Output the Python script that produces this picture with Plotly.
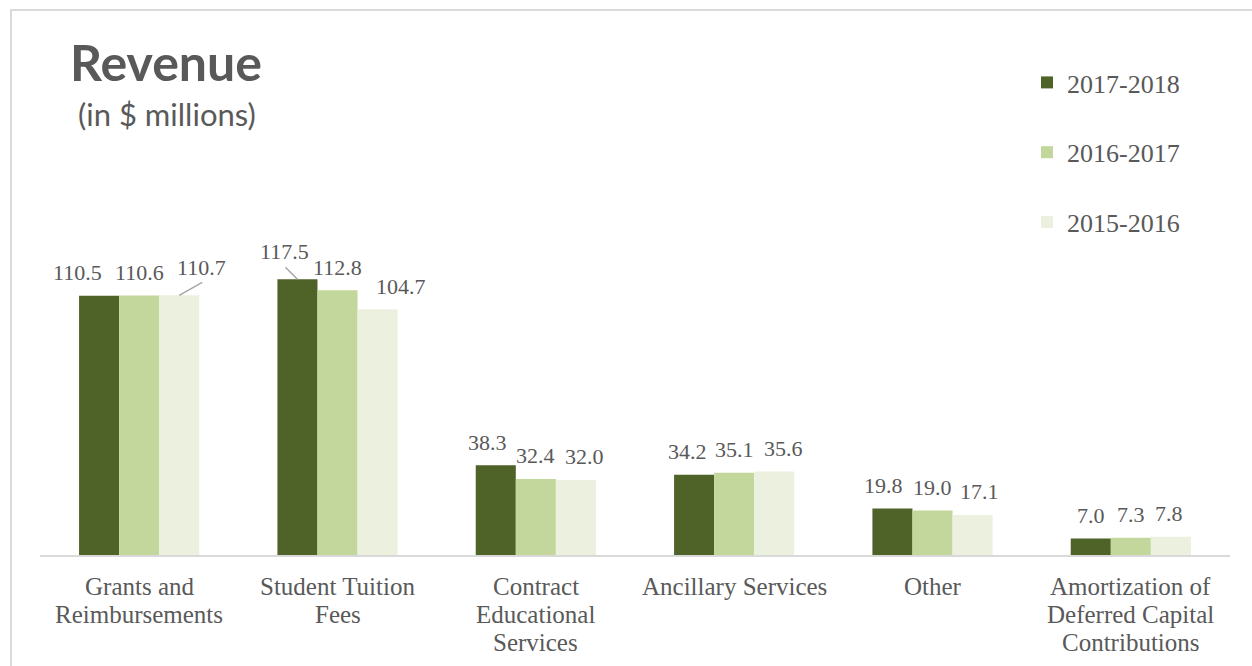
import plotly.graph_objects as go

# Revenue by source, in $ millions
categories = [
    "Grants and<br>Reimbursements",
    "Student Tuition<br>Fees",
    "Contract<br>Educational<br>Services",
    "Ancillary Services",
    "Other",
    "Amortization of<br>Deferred Capital<br>Contributions",
]
years = ["2017-2018", "2016-2017", "2015-2016"]
rev_2017_2018 = [110.5, 117.5, 38.3, 34.2, 19.8, 7.0]
rev_2016_2017 = [110.6, 112.8, 32.4, 35.1, 19.0, 7.3]
rev_2015_2016 = [110.7, 104.7, 32.0, 35.6, 17.1, 7.8]

series = [rev_2017_2018, rev_2016_2017, rev_2015_2016]
colors = ["#4f6228", "#c3d69b", "#ebf1de"]

# Horizontal nudges (px) of the value labels so neighbours do not collide
label_dx = [
    [-22, 0, 22],
    [-13, 0, 23],
    [-8, 0, 9],
    [-7, 0, 9],
    [-9, 0, 7],
    [0, 0, -2],
]
# Labels pulled away from their bar and tied back with a leader line
leader = {(0, 2): (23, 13), (1, 0): (-12, 12)}

W, H = 1252, 666
ML, MR, MT, MB = 40, 22, 250, 111
TEXT = "#595959"
SERIF = "Liberation Serif, Times New Roman, serif"
SANS = "Lato, Calibri, sans-serif"

pw, ph = W - ML - MR, H - MT - MB


def px_x(p):
    return (p - ML) / pw


def px_y(p):
    return (H - MB - p) / ph


x = list(range(len(categories)))
bargap = 0.394
bar_w = (1 - bargap) / len(series)

fig = go.Figure()
for name, vals, col in zip(years, series, colors):
    fig.add_trace(go.Bar(
        x=x, y=vals, name=name, marker=dict(color=col, line=dict(width=0)),
        legendgroup=name, hoverinfo="skip",
    ))

annotations = []
shapes = []
for j, vals in enumerate(series):
    for i, v in enumerate(vals):
        bx = i + (j - 1) * bar_w
        lift = 23
        if (i, j) in leader:
            dx, dy = leader[(i, j)]
            lift = 28
            shapes.append(dict(
                type="line", xref="x", yref="y",
                xsizemode="pixel", ysizemode="pixel",
                xanchor=bx, yanchor=v, x0=0, y0=0, x1=dx, y1=dy,
                line=dict(color="#a6a6a6", width=1.5),
            ))
        annotations.append(dict(
            x=bx, y=v, xref="x", yref="y", text=f"{v:.1f}",
            showarrow=False, xanchor="center", yanchor="middle",
            xshift=label_dx[i][j], yshift=lift,
            font=dict(family=SERIF, size=22, color=TEXT),
        ))

# Category labels under the axis, one line at a time for tight leading
for i, cat in enumerate(categories):
    for k, line in enumerate(cat.split("<br>")):
        annotations.append(dict(
            x=i, y=0, xref="x", yref="y", text=line,
            showarrow=False, xanchor="center", yanchor="middle",
            yshift=-(31 + 28 * k),
            font=dict(family=SERIF, size=25, color=TEXT),
        ))

# Subtitle under the chart title
annotations.append(dict(
    x=px_x(76), y=px_y(114), xref="paper", yref="paper",
    text="(in $ millions)", showarrow=False, xanchor="left", yanchor="middle",
    font=dict(family=SANS, size=31, color=TEXT),
))

# Light frame around the chart
shapes.append(dict(
    type="rect", xref="paper", yref="paper",
    x0=px_x(11), x1=px_x(W + 20), y0=px_y(H + 20), y1=px_y(10),
    line=dict(color="#d9d9d9", width=2), fillcolor="rgba(0,0,0,0)", layer="below",
))

fig.update_layout(
    width=W, height=H,
    margin=dict(l=ML, r=MR, t=MT, b=MB, autoexpand=False),
    paper_bgcolor="white", plot_bgcolor="white",
    barmode="group", bargap=bargap, bargroupgap=0,
    title=dict(
        text="<b>Revenue</b>", xref="container", yref="container",
        x=70 / W, xanchor="left", y=1 - 63 / H, yanchor="middle",
        font=dict(family=SANS, size=50, color=TEXT),
    ),
    xaxis=dict(
        tickmode="array", tickvals=x, showticklabels=False,
        range=[-0.5, len(categories) - 0.5],
        showline=True, linecolor="#d9d9d9", linewidth=2,
        showgrid=False, zeroline=False, ticks="", automargin=False,
    ),
    yaxis=dict(range=[0, 130], visible=False, automargin=False),
    legend=dict(
        x=px_x(1027), y=px_y(59), xanchor="left", yanchor="top",
        xref="paper", yref="paper",
        font=dict(family=SERIF, size=26, color=TEXT),
        tracegroupgap=33, bgcolor="rgba(0,0,0,0)",
    ),
    annotations=annotations,
    shapes=shapes,
    showlegend=True,
)

fig.write_html("out.html")
